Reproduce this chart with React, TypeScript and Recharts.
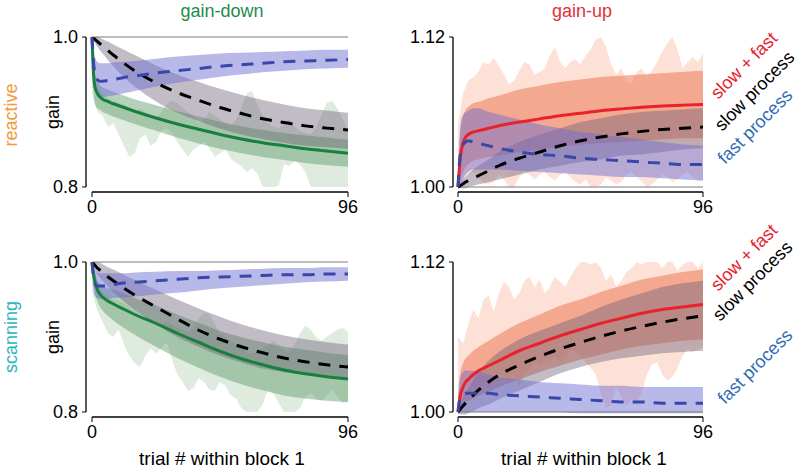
import React from 'react';
import { ComposedChart, Area, Line, XAxis, YAxis, ReferenceLine } from 'recharts';

const FONT = '"Liberation Sans", Arial, Helvetica, sans-serif';

// model curves are sampled on this trial grid
const curveTrials = [0, 0.5, 1, 2, 3, 4, 6, 8, 12, 16, 24, 32, 40, 48, 56, 64, 72, 80, 88, 96];
// measured gain (shaded, noisy) every 2 trials
const dataTrials = [
  0, 2, 4, 6, 8, 10, 12, 14, 16, 18, 20, 22, 24, 26, 28, 30, 32, 34, 36, 38, 40, 42, 44, 46, 48,
  50, 52, 54, 56, 58, 60, 62, 64, 66, 68, 70, 72, 74, 76, 78, 80, 82, 84, 86, 88, 90, 92, 94, 96,
];

// reactive, gain-down
const rdSum = [1.0, 0.955, 0.935, 0.925, 0.92, 0.917, 0.914, 0.911, 0.906, 0.901, 0.892, 0.884, 0.877, 0.87, 0.864, 0.859, 0.855, 0.851, 0.848, 0.845];
const rdSumLo = [0.99, 0.935, 0.912, 0.905, 0.903, 0.9, 0.897, 0.894, 0.889, 0.884, 0.875, 0.866, 0.858, 0.851, 0.845, 0.84, 0.836, 0.832, 0.829, 0.827];
const rdSumHi = [1.0, 0.975, 0.955, 0.943, 0.936, 0.933, 0.93, 0.927, 0.922, 0.917, 0.909, 0.901, 0.894, 0.887, 0.881, 0.876, 0.872, 0.869, 0.866, 0.863];
const rdSlow = [1.0, 0.9985, 0.997, 0.994, 0.991, 0.988, 0.982, 0.976, 0.965, 0.955, 0.939, 0.926, 0.9155, 0.906, 0.898, 0.891, 0.886, 0.8815, 0.8785, 0.876];
const rdSlowLo = [1.0, 0.997, 0.993, 0.987, 0.982, 0.978, 0.969, 0.961, 0.946, 0.934, 0.914, 0.899, 0.888, 0.878, 0.87, 0.864, 0.859, 0.855, 0.853, 0.851];
const rdSlowHi = [1.0, 1.0, 1.0, 1.0, 0.999, 0.997, 0.994, 0.99, 0.983, 0.976, 0.962, 0.95, 0.94, 0.931, 0.923, 0.916, 0.91, 0.905, 0.902, 0.899];
const rdFast = [1.0, 0.97, 0.953, 0.943, 0.941, 0.941, 0.942, 0.943, 0.946, 0.948, 0.952, 0.955, 0.958, 0.961, 0.963, 0.965, 0.967, 0.968, 0.969, 0.97];
const rdFastLo = [0.995, 0.95, 0.93, 0.922, 0.92, 0.92, 0.921, 0.922, 0.925, 0.928, 0.934, 0.939, 0.943, 0.947, 0.95, 0.953, 0.955, 0.957, 0.958, 0.959];
const rdFastHi = [1.0, 0.99, 0.975, 0.967, 0.965, 0.965, 0.965, 0.966, 0.967, 0.968, 0.971, 0.974, 0.976, 0.978, 0.979, 0.98, 0.981, 0.982, 0.983, 0.983];
const rdDataLo = [0.925, 0.9, 0.895, 0.88, 0.885, 0.87, 0.855, 0.84, 0.845, 0.865, 0.87, 0.855, 0.86, 0.875, 0.878, 0.872, 0.86, 0.85, 0.84, 0.85, 0.855, 0.86, 0.852, 0.84, 0.845, 0.85, 0.838, 0.832, 0.828, 0.82, 0.825, 0.818, 0.8, 0.8, 0.8, 0.802, 0.83, 0.828, 0.835, 0.83, 0.82, 0.8, 0.8, 0.8, 0.8, 0.8, 0.8, 0.8, 0.8];
const rdDataHi = [0.955, 0.935, 0.925, 0.918, 0.915, 0.912, 0.91, 0.905, 0.9, 0.905, 0.9, 0.895, 0.893, 0.9, 0.91, 0.915, 0.912, 0.905, 0.9, 0.895, 0.885, 0.89, 0.9, 0.895, 0.89, 0.885, 0.88, 0.89, 0.905, 0.925, 0.928, 0.91, 0.895, 0.885, 0.88, 0.878, 0.885, 0.89, 0.88, 0.875, 0.872, 0.87, 0.88, 0.895, 0.912, 0.915, 0.905, 0.89, 0.875];

// reactive, gain-up
const ruSum = [1.0, 1.014, 1.025, 1.035, 1.04, 1.042, 1.044, 1.045, 1.047, 1.049, 1.052, 1.0545, 1.057, 1.059, 1.061, 1.0625, 1.0638, 1.0648, 1.0655, 1.066];
const ruSumLo = [0.998, 1.0, 1.005, 1.012, 1.016, 1.018, 1.021, 1.022, 1.024, 1.025, 1.028, 1.03, 1.032, 1.034, 1.035, 1.036, 1.037, 1.038, 1.039, 1.039];
const ruSumHi = [1.002, 1.03, 1.045, 1.056, 1.062, 1.064, 1.067, 1.068, 1.071, 1.073, 1.078, 1.081, 1.084, 1.086, 1.088, 1.089, 1.09, 1.091, 1.092, 1.093];
const ruSlow = [1.0, 1.0006, 1.0012, 1.0025, 1.004, 1.005, 1.007, 1.009, 1.013, 1.017, 1.023, 1.028, 1.033, 1.037, 1.04, 1.0425, 1.0445, 1.046, 1.047, 1.048];
const ruSlowLo = [1.0, 0.999, 0.999, 0.999, 0.999, 1.0, 1.001, 1.002, 1.004, 1.006, 1.01, 1.014, 1.017, 1.02, 1.022, 1.025, 1.026, 1.028, 1.03, 1.031];
const ruSlowHi = [1.0, 1.002, 1.004, 1.006, 1.008, 1.01, 1.014, 1.017, 1.022, 1.028, 1.036, 1.042, 1.047, 1.052, 1.055, 1.058, 1.06, 1.061, 1.062, 1.063];
const ruFast = [1.0, 1.018, 1.028, 1.034, 1.036, 1.037, 1.036, 1.035, 1.033, 1.031, 1.028, 1.026, 1.025, 1.023, 1.022, 1.021, 1.02, 1.019, 1.018, 1.018];
const ruFastLo = [0.998, 1.0, 1.0, 1.006, 1.01, 1.012, 1.014, 1.014, 1.014, 1.014, 1.013, 1.012, 1.011, 1.01, 1.009, 1.008, 1.008, 1.007, 1.006, 1.005];
const ruFastHi = [1.002, 1.035, 1.05, 1.058, 1.06, 1.061, 1.063, 1.063, 1.06, 1.058, 1.054, 1.05, 1.047, 1.044, 1.042, 1.04, 1.038, 1.036, 1.034, 1.033];
const ruDataLo = [1.0, 1.005, 1.01, 1.012, 1.008, 1.003, 1.002, 1.004, 1.01, 1.006, 1.0, 1.0, 1.008, 1.012, 1.01, 1.006, 1.01, 1.012, 1.008, 1.005, 1.01, 1.012, 1.008, 1.004, 1.002, 1.006, 1.0, 1.0, 1.002, 1.008, 1.005, 1.002, 1.004, 1.01, 1.012, 1.008, 1.004, 1.0, 1.002, 1.006, 1.01, 1.008, 1.004, 1.006, 1.01, 1.012, 1.008, 1.005, 1.006];
const ruDataHi = [1.05, 1.075, 1.085, 1.088, 1.092, 1.1, 1.098, 1.103, 1.097, 1.09, 1.082, 1.085, 1.093, 1.1, 1.098, 1.09, 1.092, 1.095, 1.105, 1.112, 1.1, 1.095, 1.1, 1.102, 1.098, 1.105, 1.11, 1.118, 1.12, 1.112, 1.098, 1.09, 1.095, 1.085, 1.082, 1.092, 1.095, 1.088, 1.093, 1.1, 1.108, 1.115, 1.12, 1.11, 1.095, 1.1, 1.104, 1.1, 1.107];

// scanning, gain-down
const sdSum = [1.0, 0.985, 0.975, 0.963, 0.957, 0.953, 0.948, 0.944, 0.937, 0.93, 0.918, 0.905, 0.893, 0.881, 0.871, 0.863, 0.856, 0.851, 0.847, 0.844];
const sdSumLo = [0.995, 0.975, 0.962, 0.948, 0.94, 0.935, 0.928, 0.922, 0.912, 0.903, 0.887, 0.872, 0.859, 0.847, 0.837, 0.829, 0.822, 0.818, 0.815, 0.813];
const sdSumHi = [1.0, 0.993, 0.987, 0.976, 0.971, 0.968, 0.965, 0.963, 0.958, 0.952, 0.942, 0.93, 0.919, 0.908, 0.9, 0.893, 0.887, 0.883, 0.879, 0.876];
const sdSlow = [1.0, 0.998, 0.996, 0.992, 0.989, 0.986, 0.98, 0.975, 0.965, 0.956, 0.94, 0.924, 0.909, 0.897, 0.887, 0.879, 0.872, 0.867, 0.863, 0.86];
const sdSlowLo = [1.0, 0.995, 0.99, 0.984, 0.979, 0.975, 0.967, 0.96, 0.947, 0.936, 0.917, 0.9, 0.887, 0.875, 0.866, 0.858, 0.853, 0.85, 0.847, 0.845];
const sdSlowHi = [1.0, 1.0, 1.0, 1.0, 0.999, 0.997, 0.993, 0.99, 0.983, 0.976, 0.963, 0.95, 0.938, 0.927, 0.917, 0.909, 0.902, 0.897, 0.893, 0.89];
const sdFast = [1.0, 0.982, 0.972, 0.968, 0.968, 0.968, 0.969, 0.97, 0.972, 0.973, 0.975, 0.977, 0.979, 0.98, 0.981, 0.982, 0.983, 0.983, 0.984, 0.984];
const sdFastLo = [0.99, 0.965, 0.955, 0.952, 0.951, 0.951, 0.951, 0.952, 0.953, 0.954, 0.957, 0.959, 0.962, 0.965, 0.967, 0.969, 0.971, 0.973, 0.974, 0.975];
const sdFastHi = [1.0, 0.995, 0.99, 0.986, 0.985, 0.985, 0.985, 0.985, 0.985, 0.986, 0.987, 0.988, 0.988, 0.989, 0.99, 0.991, 0.992, 0.992, 0.993, 0.993];
const sdDataLo = [0.96, 0.935, 0.92, 0.905, 0.9, 0.91, 0.89, 0.875, 0.865, 0.86, 0.875, 0.885, 0.878, 0.885, 0.893, 0.87, 0.85, 0.84, 0.828, 0.832, 0.845, 0.84, 0.83, 0.828, 0.84, 0.835, 0.822, 0.818, 0.805, 0.8, 0.8, 0.8, 0.81, 0.83, 0.825, 0.812, 0.8, 0.8, 0.8, 0.805, 0.82, 0.825, 0.818, 0.815, 0.822, 0.83, 0.82, 0.812, 0.815];
const sdDataHi = [0.992, 0.975, 0.96, 0.955, 0.95, 0.948, 0.945, 0.94, 0.935, 0.93, 0.928, 0.925, 0.92, 0.918, 0.92, 0.917, 0.912, 0.91, 0.905, 0.912, 0.925, 0.932, 0.93, 0.918, 0.905, 0.9, 0.895, 0.89, 0.885, 0.88, 0.878, 0.88, 0.885, 0.89, 0.895, 0.89, 0.883, 0.88, 0.89, 0.905, 0.915, 0.91, 0.9, 0.895, 0.9, 0.905, 0.91, 0.912, 0.907];

// scanning, gain-up
const suSum = [1.0, 1.008, 1.014, 1.02, 1.024, 1.026, 1.03, 1.033, 1.037, 1.041, 1.049, 1.055, 1.061, 1.066, 1.071, 1.075, 1.079, 1.082, 1.084, 1.086];
const suSumLo = [0.998, 1.0, 1.003, 1.006, 1.008, 1.009, 1.011, 1.013, 1.016, 1.02, 1.026, 1.032, 1.037, 1.042, 1.046, 1.05, 1.053, 1.055, 1.057, 1.058];
const suSumHi = [1.01, 1.025, 1.032, 1.039, 1.043, 1.045, 1.049, 1.052, 1.057, 1.062, 1.071, 1.078, 1.085, 1.09, 1.096, 1.101, 1.106, 1.109, 1.112, 1.114];
const suSlow = [1.0, 1.0012, 1.0025, 1.005, 1.0073, 1.0095, 1.0135, 1.0175, 1.024, 1.0295, 1.0375, 1.0445, 1.0505, 1.0557, 1.0605, 1.0648, 1.0685, 1.0718, 1.0746, 1.077];
const suSlowLo = [1.0, 0.999, 0.998, 0.998, 0.998, 0.999, 1.001, 1.003, 1.006, 1.01, 1.017, 1.024, 1.031, 1.036, 1.04, 1.043, 1.045, 1.047, 1.048, 1.049];
const suSlowHi = [1.0, 1.003, 1.006, 1.012, 1.016, 1.019, 1.026, 1.032, 1.041, 1.048, 1.058, 1.065, 1.071, 1.077, 1.084, 1.09, 1.095, 1.1, 1.103, 1.105];
const suFast = [1.0, 1.008, 1.012, 1.014, 1.015, 1.015, 1.015, 1.015, 1.015, 1.014, 1.013, 1.012, 1.011, 1.01, 1.009, 1.008, 1.008, 1.007, 1.007, 1.007];
const suFastLo = [0.998, 0.999, 1.0, 1.0, 1.0, 1.0, 1.0, 1.0, 1.0, 1.0, 1.0, 1.0, 1.0, 0.999, 0.999, 0.999, 0.999, 0.999, 0.999, 0.999];
const suFastHi = [1.01, 1.022, 1.028, 1.032, 1.033, 1.033, 1.033, 1.032, 1.03, 1.028, 1.026, 1.024, 1.023, 1.022, 1.021, 1.021, 1.02, 1.02, 1.02, 1.02];
const suDataLo = [1.005, 1.01, 1.015, 1.02, 1.018, 1.022, 1.02, 1.025, 1.03, 1.028, 1.025, 1.03, 1.02, 1.03, 1.035, 1.04, 1.038, 1.042, 1.04, 1.045, 1.04, 1.045, 1.05, 1.048, 1.045, 1.04, 1.035, 1.03, 1.015, 1.003, 1.005, 1.02, 1.012, 1.005, 1.01, 1.008, 1.015, 1.03, 1.038, 1.04, 1.03, 1.025, 1.028, 1.035, 1.045, 1.05, 1.048, 1.05, 1.052];
const suDataHi = [1.06, 1.055, 1.07, 1.082, 1.075, 1.09, 1.093, 1.08, 1.095, 1.104, 1.1, 1.09, 1.095, 1.105, 1.108, 1.1, 1.106, 1.095, 1.1, 1.108, 1.104, 1.1, 1.108, 1.115, 1.12, 1.12, 1.118, 1.12, 1.115, 1.105, 1.11, 1.1, 1.105, 1.112, 1.115, 1.12, 1.118, 1.12, 1.12, 1.12, 1.115, 1.12, 1.12, 1.113, 1.118, 1.12, 1.12, 1.115, 1.12];

type Series = {
  sum: number[]; sumLo: number[]; sumHi: number[];
  slow: number[]; slowLo: number[]; slowHi: number[];
  fast: number[]; fastLo: number[]; fastHi: number[];
  dataLo: number[]; dataHi: number[];
};

function buildRows(s: Series) {
  const xs = Array.from(new Set([...curveTrials, ...dataTrials])).sort((a, b) => a - b);
  return xs.map((x) => {
    const c = curveTrials.indexOf(x);
    const d = dataTrials.indexOf(x);
    return {
      trial: x,
      data: d >= 0 ? [s.dataLo[d], s.dataHi[d]] : null,
      sumBand: c >= 0 ? [s.sumLo[c], s.sumHi[c]] : null,
      slowBand: c >= 0 ? [s.slowLo[c], s.slowHi[c]] : null,
      fastBand: c >= 0 ? [s.fastLo[c], s.fastHi[c]] : null,
      sum: c >= 0 ? s.sum[c] : null,
      slow: c >= 0 ? s.slow[c] : null,
      fast: c >= 0 ? s.fast[c] : null,
    };
  });
}

const DOWN = {
  domain: [0.79333, 1.0], ticks: [0.8, 1.0], digits: 1, yLo: 0.8, yHi: 1.0,
  line: '#17803d', band: '#5b9a68', bandOpacity: 0.45, noise: '#dfebde',
  width: 360, axisW: 86, right: 12, xMin: -2.25,
};
const UP = {
  domain: [0.996, 1.12], ticks: [1.0, 1.12], digits: 2, yLo: 1.0, yHi: 1.12,
  line: '#e8212b', band: '#ef8466', bandOpacity: 0.62, noise: '#fde1d6',
  width: 340, axisW: 73, right: 17, xMin: -1.96,
};

const tickStyle = { fill: '#000', fontSize: 18, fontFamily: FONT };

function Panel({ s, up, left, top }: { s: Series; up: boolean; left: number; top: number }) {
  const k = up ? UP : DOWN;
  const rows = buildRows(s);
  return (
    <div style={{ position: 'absolute', left, top }}>
      <ComposedChart width={k.width} height={240} data={rows} margin={{ top: 37, right: k.right, bottom: 18, left: 0 }}>
        <XAxis dataKey="trial" type="number" domain={[k.xMin, 96]} ticks={[0, 96]} allowDataOverflow
          axisLine={false} tickLine={{ stroke: '#000' }} tickSize={5} tickMargin={3} height={30} tick={tickStyle} />
        <YAxis type="number" domain={k.domain} ticks={k.ticks} allowDataOverflow width={k.axisW}
          axisLine={false} tickLine={{ stroke: '#000' }} tickSize={4} tickMargin={4} tick={tickStyle}
          tickFormatter={(v: number) => v.toFixed(k.digits)} />
        <Area dataKey="data" type="linear" fill={k.noise} fillOpacity={1} stroke="none" connectNulls isAnimationActive={false} />
        <Area dataKey="sumBand" type="monotone" fill={k.band} fillOpacity={k.bandOpacity} stroke="none" connectNulls isAnimationActive={false} />
        <Area dataKey="slowBand" type="monotone" fill="#6b5f78" fillOpacity={0.42} stroke="none" connectNulls isAnimationActive={false} />
        <Area dataKey="fastBand" type="monotone" fill="#6d6dd0" fillOpacity={0.48} stroke="none" connectNulls isAnimationActive={false} />
        <ReferenceLine segment={[{ x: 0, y: 1.0 }, { x: 96, y: 1.0 }]} stroke="#7a7a7a" strokeWidth={1} ifOverflow="visible" />
        <Line dataKey="sum" type="monotone" stroke={k.line} strokeWidth={3} dot={false} activeDot={false} connectNulls isAnimationActive={false} />
        <Line dataKey="slow" type="monotone" stroke="#000" strokeWidth={3} strokeDasharray="12 9" dot={false} activeDot={false} connectNulls isAnimationActive={false} />
        <Line dataKey="fast" type="monotone" stroke="#3848a8" strokeWidth={3} strokeDasharray="12 9" dot={false} activeDot={false} connectNulls isAnimationActive={false} />
        <ReferenceLine segment={[{ x: 0, y: k.domain[0] }, { x: 96, y: k.domain[0] }]} stroke="#000" strokeWidth={1.3} ifOverflow="visible" />
        <ReferenceLine segment={[{ x: k.xMin, y: k.yLo }, { x: k.xMin, y: k.yHi }]} stroke="#000" strokeWidth={1.3} ifOverflow="visible" />
      </ComposedChart>
    </div>
  );
}

const reactiveDown: Series = { sum: rdSum, sumLo: rdSumLo, sumHi: rdSumHi, slow: rdSlow, slowLo: rdSlowLo, slowHi: rdSlowHi, fast: rdFast, fastLo: rdFastLo, fastHi: rdFastHi, dataLo: rdDataLo, dataHi: rdDataHi };
const reactiveUp: Series = { sum: ruSum, sumLo: ruSumLo, sumHi: ruSumHi, slow: ruSlow, slowLo: ruSlowLo, slowHi: ruSlowHi, fast: ruFast, fastLo: ruFastLo, fastHi: ruFastHi, dataLo: ruDataLo, dataHi: ruDataHi };
const scanningDown: Series = { sum: sdSum, sumLo: sdSumLo, sumHi: sdSumHi, slow: sdSlow, slowLo: sdSlowLo, slowHi: sdSlowHi, fast: sdFast, fastLo: sdFastLo, fastHi: sdFastHi, dataLo: sdDataLo, dataHi: sdDataHi };
const scanningUp: Series = { sum: suSum, sumLo: suSumLo, sumHi: suSumHi, slow: suSlow, slowLo: suSlowLo, slowHi: suSlowHi, fast: suFast, fastLo: suFastLo, fastHi: suFastHi, dataLo: suDataLo, dataHi: suDataHi };

function Rotated({ x, y, angle, color, anchor = 'start', children }: any) {
  return (
    <text x={x} y={y} fill={color} fontSize={18} fontFamily={FONT} textAnchor={anchor} transform={`rotate(${angle} ${x} ${y})`}>
      {children}
    </text>
  );
}

export default function App() {
  return (
    <div style={{ position: 'absolute', left: 0, top: 0, width: 800, height: 469, background: '#fff', overflow: 'hidden' }}>
      <Panel s={reactiveDown} up={false} left={0} top={0} />
      <Panel s={reactiveUp} up={true} left={380} top={0} />
      <Panel s={scanningDown} up={false} left={0} top={225} />
      <Panel s={scanningUp} up={true} left={380} top={225} />
      <svg width={800} height={469} style={{ position: 'absolute', left: 0, top: 0, pointerEvents: 'none' }}>
        <text x={222} y={17} fill="#1f8a4c" fontSize={18} fontFamily={FONT} textAnchor="middle">gain-down</text>
        <text x={582} y={17} fill="#e3303a" fontSize={18} fontFamily={FONT} textAnchor="middle">gain-up</text>
        <Rotated x={17} y={115} angle={-90} color="#f39a3a" anchor="middle">reactive</Rotated>
        <Rotated x={17} y={337} angle={-90} color="#2bb5c0" anchor="middle">scanning</Rotated>
        <Rotated x={59} y={112} angle={-90} color="#000" anchor="middle">gain</Rotated>
        <Rotated x={59} y={337} angle={-90} color="#000" anchor="middle">gain</Rotated>
        <text x={222} y={465} fill="#000" fontSize={19} fontFamily={FONT} textAnchor="middle">trial # within block 1</text>
        <text x={584} y={465} fill="#000" fontSize={19} fontFamily={FONT} textAnchor="middle">trial # within block 1</text>
        <Rotated x={718} y={100} angle={-45} color="#e8212b">slow + fast</Rotated>
        <Rotated x={722} y={132} angle={-45} color="#000">slow process</Rotated>
        <Rotated x={725} y={165} angle={-45} color="#2e6db4">fast process</Rotated>
        <Rotated x={718} y={292} angle={-45} color="#e8212b">slow + fast</Rotated>
        <Rotated x={720} y={322} angle={-45} color="#000">slow process</Rotated>
        <Rotated x={725} y={405} angle={-45} color="#2e6db4">fast process</Rotated>
      </svg>
    </div>
  );
}
